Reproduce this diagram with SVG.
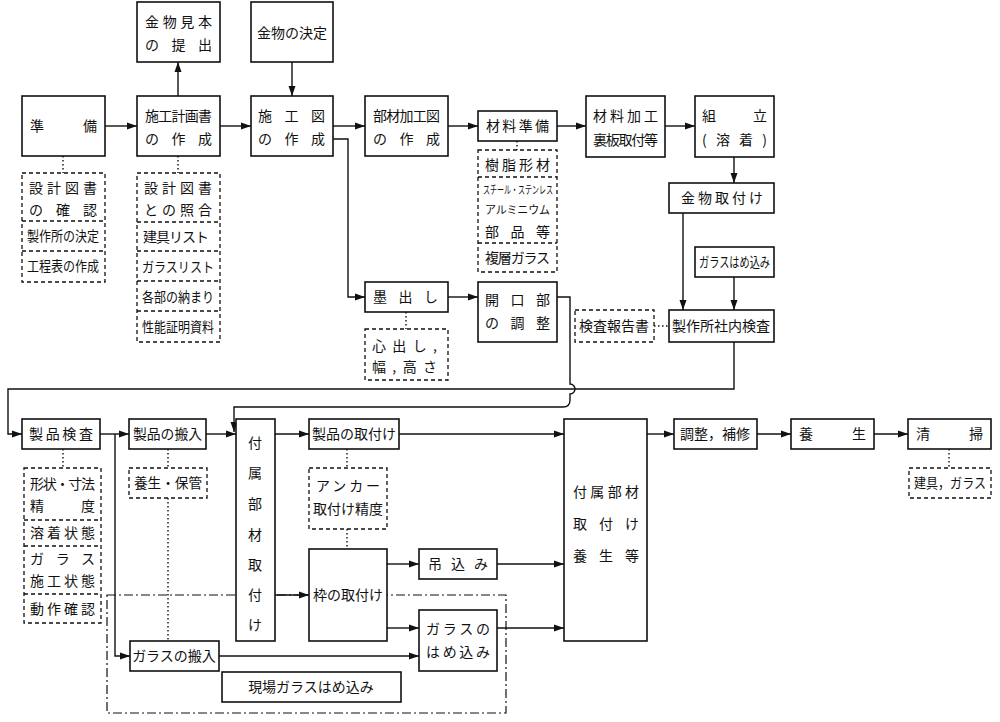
<svg xmlns="http://www.w3.org/2000/svg" width="1000" height="722" viewBox="0 0 1000 722">
<defs>
<marker id="a" markerWidth="10" markerHeight="8" refX="10" refY="4" orient="auto" markerUnits="userSpaceOnUse"><path d="M0,0.5 L10,4 L0,7.5 Z" fill="#111"/></marker>
<style>
.b{fill:#fff;stroke:#111;stroke-width:1.6}
.d{fill:#fff;stroke:#111;stroke-width:1.3;stroke-dasharray:4 3}
.dd{fill:none;stroke:#111;stroke-width:1.2;stroke-dasharray:9 3 2 3}
.l{fill:none;stroke:#111;stroke-width:1.4}
.la{fill:none;stroke:#111;stroke-width:1.4;marker-end:url(#a)}
.o{fill:none;stroke:#111;stroke-width:1.4;stroke-dasharray:1.5 2.5}
text{font-family:"Noto Sans CJK JP",sans-serif;font-size:14px;fill:#111}
.m{text-anchor:middle}
.s{font-size:11px}
</style>
</defs>
<rect width="1000" height="722" fill="#fff"/>
<g id="connectors">
<rect class="dd" x="107" y="595" width="399" height="118"/>
<path class="la" d="M105,126H137"/>
<path class="la" d="M178,96V62"/>
<path class="la" d="M292,62V96"/>
<path class="la" d="M220,126H251"/>
<path class="la" d="M333,126H365"/>
<path class="la" d="M333,139H348V297H365"/>
<path class="la" d="M448,126H478"/>
<path class="la" d="M557,126H586"/>
<path class="la" d="M665,126H695"/>
<path class="la" d="M734,157V183"/>
<path class="la" d="M683,213V310"/>
<path class="la" d="M734,277V310"/>
<path class="la" d="M448,297H478"/>
<path class="o" d="M654,326H669"/>
<path class="la" d="M734,342V389H8V434H22"/>
<path class="la" d="M557,297H570V384A5,5 0 0 1 570,394V400Q570,407 563,407H234V432"/>
<path class="o" d="M63,156V173M178,156V173M517,141V150M406,312V329"/>
<path class="la" d="M100,434H129"/>
<path class="la" d="M115,434V656H130"/>
<path class="la" d="M206,434H236"/>
<path class="la" d="M275,434H309"/>
<path class="la" d="M399,434H564"/>
<path class="la" d="M275,595H309"/>
<path class="la" d="M387,564H419"/>
<path class="la" d="M387,628H419"/>
<path class="la" d="M219,656H419"/>
<path class="la" d="M497,564H564"/>
<path class="la" d="M497,628H564"/>
<path class="la" d="M647,434H674"/>
<path class="la" d="M757,434H791"/>
<path class="la" d="M874,434H908"/>
<path class="o" d="M63,449V468M168,449V468M168,498V641M347,449V468M347,529V549M949,449V468"/>
</g>
<g id="n1"><rect class="b" x="137" y="2" width="83" height="60"/><text x="145" y="27" textLength="67" lengthAdjust="spacing">金物見本</text><text x="145" y="50" textLength="67" lengthAdjust="spacing">の提出</text></g>
<g id="n2"><rect class="b" x="251" y="2" width="82" height="60"/><text class="m" x="292" y="38">金物の決定</text></g>
<g id="n3"><rect class="b" x="22" y="96" width="83" height="60"/><text x="30" y="131" textLength="67" lengthAdjust="spacing">準備</text></g>
<g id="n4"><rect class="b" x="137" y="96" width="83" height="60"/><text x="145" y="121" textLength="67" lengthAdjust="spacing">施工計画書</text><text x="145" y="144" textLength="67" lengthAdjust="spacing">の作成</text></g>
<g id="n5"><rect class="b" x="251" y="96" width="82" height="60"/><text x="258" y="121" textLength="67" lengthAdjust="spacing">施工図</text><text x="258" y="144" textLength="67" lengthAdjust="spacing">の作成</text></g>
<g id="n6"><rect class="b" x="365" y="96" width="83" height="60"/><text x="373" y="121" textLength="67" lengthAdjust="spacing">部材加工図</text><text x="373" y="144" textLength="67" lengthAdjust="spacing">の作成</text></g>
<g id="n7"><rect class="b" x="478" y="111" width="79" height="30"/><text x="486" y="131" textLength="63" lengthAdjust="spacing">材料準備</text></g>
<g id="n8"><rect class="b" x="586" y="96" width="79" height="61"/><text x="593" y="121" textLength="65" lengthAdjust="spacing">材料加工</text><text x="593" y="145" textLength="65" lengthAdjust="spacing">裏板取付等</text></g>
<g id="n9"><rect class="b" x="695" y="96" width="79" height="61"/><text x="702" y="121" textLength="65" lengthAdjust="spacing">組立</text><text x="702" y="145" textLength="65" lengthAdjust="spacing">(溶着)</text></g>
<g id="n10"><rect class="b" x="669" y="183" width="105" height="30"/><text x="681" y="203" textLength="82" lengthAdjust="spacing">金物取付け</text></g>
<g id="n11"><rect class="b" x="695" y="247" width="79" height="30"/><text x="699" y="267" font-size="12" textLength="71" lengthAdjust="spacingAndGlyphs">ガラスはめ込み</text></g>
<g id="n12"><rect class="b" x="669" y="310" width="105" height="32"/><text class="m" x="721" y="331">製作所社内検査</text></g>
<g id="n13"><rect class="d" x="575" y="310" width="79" height="32"/><text class="m" x="614" y="331">検査報告書</text></g>
<g id="n14"><rect class="b" x="478" y="282" width="79" height="60"/><text x="485" y="305" textLength="65" lengthAdjust="spacing">開口部</text><text x="485" y="328" textLength="65" lengthAdjust="spacing">の調整</text></g>
<g id="n15"><rect class="b" x="365" y="282" width="83" height="30"/><text x="373" y="302" textLength="65" lengthAdjust="spacing">墨出し</text></g>
<g id="n16"><rect class="d" x="365" y="329" width="83" height="51"/><text x="372" y="351" textLength="65" lengthAdjust="spacing">心出し,</text><text x="372" y="372" textLength="65" lengthAdjust="spacing">幅,高さ</text></g>
<g id="n17"><rect class="d" x="22" y="173" width="83" height="109"/><path class="d" d="M22,221H105M22,251H105"/><text x="29" y="193" textLength="68" lengthAdjust="spacing">設計図書</text><text x="29" y="215" textLength="68" lengthAdjust="spacing">の確認</text><text x="27" y="241" font-size="13" textLength="72" lengthAdjust="spacingAndGlyphs">製作所の決定</text><text x="27" y="271" font-size="13" textLength="72" lengthAdjust="spacingAndGlyphs">工程表の作成</text></g>
<g id="n18"><rect class="d" x="137" y="173" width="83" height="169"/><path class="d" d="M137,222H220M137,251H220M137,281H220M137,311H220"/><text x="144" y="193" textLength="68" lengthAdjust="spacing">設計図書</text><text x="144" y="215" textLength="68" lengthAdjust="spacing">との照合</text><text x="143" y="242" font-size="13" textLength="66" lengthAdjust="spacing">建具リスト</text><text x="142" y="272" font-size="13" textLength="72" lengthAdjust="spacingAndGlyphs">ガラスリスト</text><text x="142" y="302" font-size="13" textLength="72" lengthAdjust="spacingAndGlyphs">各部の納まり</text><text x="142" y="332" font-size="13" textLength="72" lengthAdjust="spacingAndGlyphs">性能証明資料</text></g>
<g id="n19"><rect class="d" x="478" y="150" width="79" height="122"/><path class="d" d="M478,177H557M478,243H557"/><text x="485" y="170" textLength="65" lengthAdjust="spacing">樹脂形材</text><text class="s" x="483" y="194" textLength="70" lengthAdjust="spacingAndGlyphs">スチール・ステンレス</text><text class="s" x="485" y="214" textLength="65" lengthAdjust="spacing">アルミニウム</text><text x="485" y="237" textLength="65" lengthAdjust="spacing">部品等</text><text x="485" y="263" textLength="65" lengthAdjust="spacing">複層ガラス</text></g>
<g id="n20"><rect class="b" x="22" y="419" width="78" height="30"/><text x="29" y="439" textLength="64" lengthAdjust="spacing">製品検査</text></g>
<g id="n21"><rect class="d" x="24" y="468" width="77" height="155"/><path class="d" d="M24,520H101M24,546H101M24,594H101"/><text x="30" y="489" textLength="65" lengthAdjust="spacing">形状・寸法</text><text x="30" y="511" textLength="65" lengthAdjust="spacing">精度</text><text x="30" y="538" textLength="65" lengthAdjust="spacing">溶着状態</text><text x="30" y="564" textLength="65" lengthAdjust="spacing">ガラス</text><text x="30" y="586" textLength="65" lengthAdjust="spacing">施工状態</text><text x="30" y="614" textLength="65" lengthAdjust="spacing">動作確認</text></g>
<g id="n22"><rect class="b" x="129" y="419" width="77" height="30"/><text x="133" y="439" textLength="69" lengthAdjust="spacingAndGlyphs">製品の搬入</text></g>
<g id="n23"><rect class="d" x="129" y="468" width="78" height="30"/><text x="134" y="488" textLength="68" lengthAdjust="spacingAndGlyphs">養生・保管</text></g>
<g id="n24"><rect class="b" x="236" y="419" width="39" height="222"/><text class="m" x="255" y="448">付</text><text class="m" x="255" y="478">属</text><text class="m" x="255" y="509">部</text><text class="m" x="255" y="540">材</text><text class="m" x="255" y="570">取</text><text class="m" x="255" y="600">付</text><text class="m" x="255" y="630">け</text></g>
<g id="n25"><rect class="b" x="309" y="419" width="90" height="30"/><text class="m" x="354" y="439">製品の取付け</text></g>
<g id="n26"><rect class="d" x="309" y="468" width="78" height="61"/><text x="316" y="491" textLength="64" lengthAdjust="spacing">アンカー</text><text x="313" y="514" textLength="70" lengthAdjust="spacingAndGlyphs">取付け精度</text></g>
<g id="n27"><rect class="b" x="309" y="549" width="78" height="92"/><text x="313" y="600" textLength="70" lengthAdjust="spacingAndGlyphs">枠の取付け</text></g>
<g id="n28"><rect class="b" x="419" y="549" width="78" height="30"/><text x="428" y="569" textLength="60" lengthAdjust="spacing">吊込み</text></g>
<g id="n29"><rect class="b" x="419" y="610" width="78" height="61"/><text x="426" y="634" textLength="64" lengthAdjust="spacing">ガラスの</text><text x="426" y="657" textLength="64" lengthAdjust="spacing">はめ込み</text></g>
<g id="n30"><rect class="b" x="130" y="641" width="89" height="30"/><text class="m" x="174" y="661">ガラスの搬入</text></g>
<g id="n31"><rect class="b" x="222" y="672" width="179" height="30"/><text class="m" x="311" y="692">現場ガラスはめ込み</text></g>
<g id="n32"><rect class="b" x="564" y="419" width="83" height="222"/><text x="573" y="497" textLength="66" lengthAdjust="spacing">付属部材</text><text x="573" y="529" textLength="66" lengthAdjust="spacing">取付け</text><text x="573" y="561" textLength="66" lengthAdjust="spacing">養生等</text></g>
<g id="n33"><rect class="b" x="674" y="419" width="83" height="30"/><text class="m" x="715" y="439">調整，補修</text></g>
<g id="n34"><rect class="b" x="791" y="419" width="83" height="30"/><text x="799" y="439" textLength="67" lengthAdjust="spacing">養生</text></g>
<g id="n35"><rect class="b" x="908" y="419" width="83" height="30"/><text x="916" y="439" textLength="67" lengthAdjust="spacing">清掃</text></g>
<g id="n36"><rect class="d" x="909" y="468" width="82" height="30"/><text x="914" y="488" font-size="13" textLength="72" lengthAdjust="spacingAndGlyphs">建具，ガラス</text></g>
</svg>
